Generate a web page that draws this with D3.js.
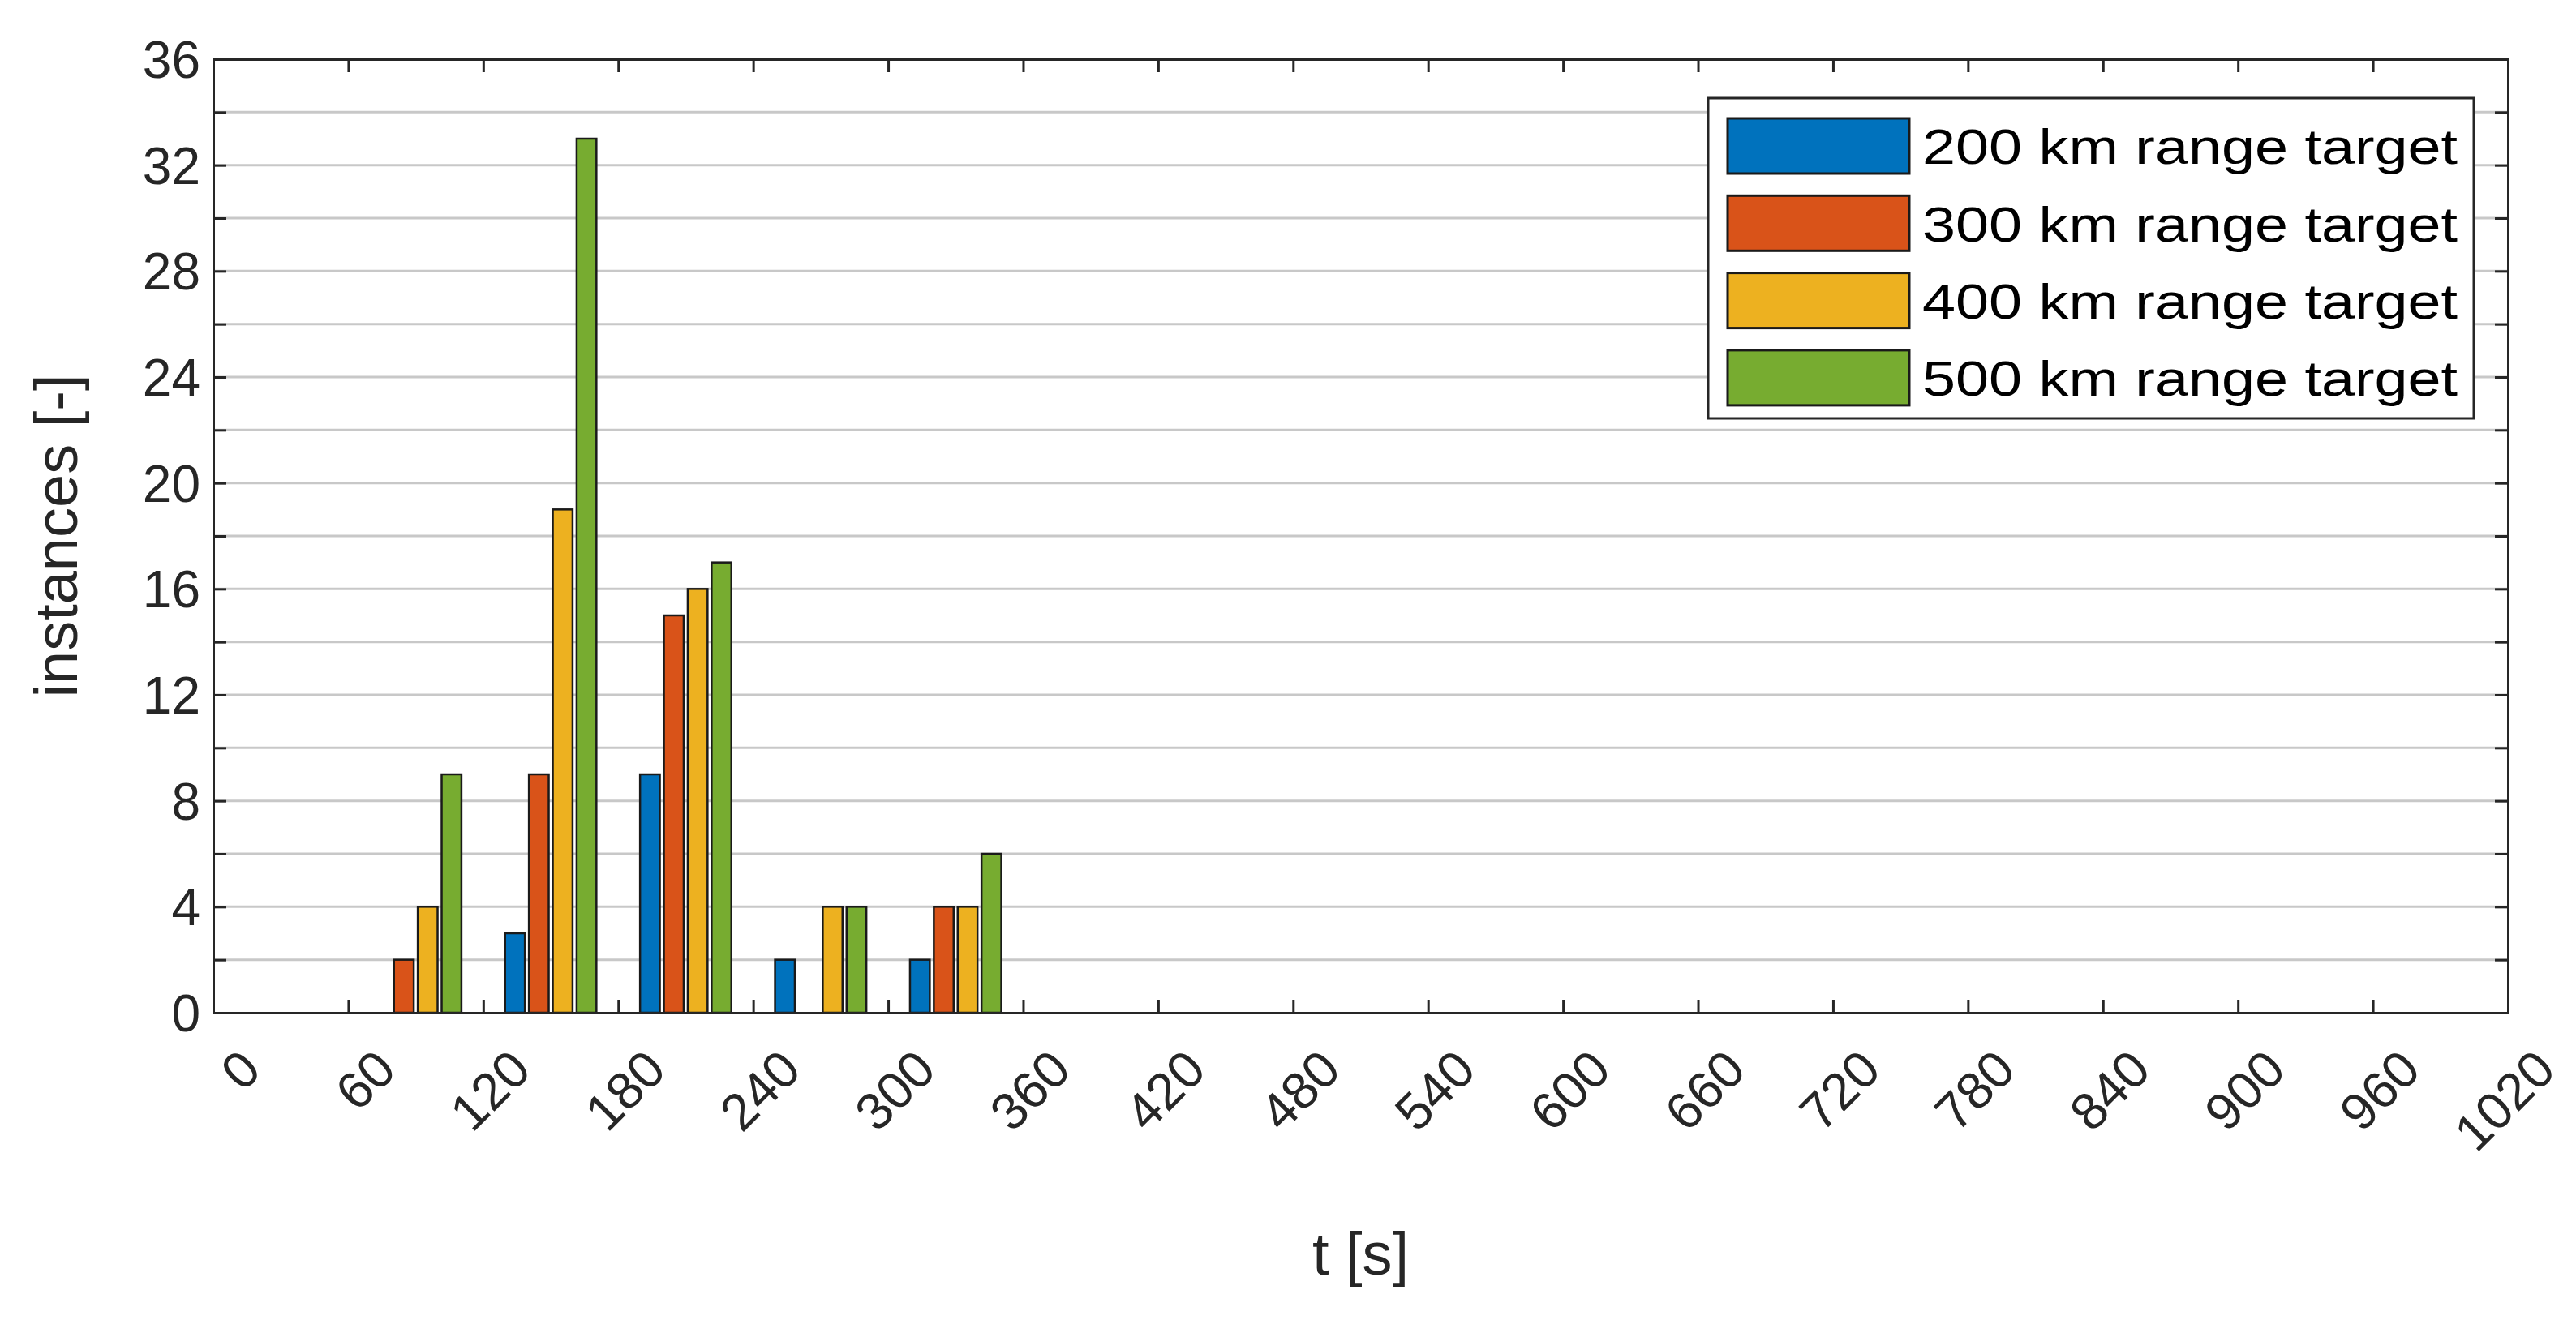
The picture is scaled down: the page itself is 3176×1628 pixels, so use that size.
<!DOCTYPE html>
<html><head><meta charset="utf-8">
<script src="https://cdn.jsdelivr.net/npm/d3@7"></script>
<style>body{margin:0;background:#fff}text{font-family:"Liberation Sans",Arial,sans-serif;fill:#262626}</style>
</head><body><svg id="c" width="3176" height="1628"></svg>
<script>
const binCenters = [90, 150, 210, 270, 330];
const seriesNames = ["200 km range target","300 km range target","400 km range target","500 km range target"];
const s200 = [0, 3, 9, 2, 2];
const s300 = [2, 9, 15, 0, 4];
const s400 = [4, 19, 16, 4, 4];
const s500 = [9, 33, 17, 4, 6];
const colors = ["#0072BD","#D95319","#EDB120","#77AC30"];
const xTicks = d3.range(0, 1021, 60);
const yTicks = d3.range(0, 37, 4);
const series = [s200, s300, s400, s500];

const svg = d3.select("#c");
const L=263, R=3092, T=73, B=1249;
const x = d3.scaleLinear().domain([0,1020]).range([L,R]);
const y = d3.scaleLinear().domain([0,36]).range([B,T]);

// grid
svg.append("g").selectAll("line").data(d3.range(2,36,2)).join("line")
  .attr("x1",L).attr("x2",R).attr("y1",d=>y(d)).attr("y2",d=>y(d))
  .attr("stroke","#c8c8c8").attr("stroke-width",3);

// bars
const step = 10.6, bw = 8.8;
series.forEach((s,i)=>{
  svg.append("g").selectAll("rect").data(s.map((v,j)=>({v,c:binCenters[j]})).filter(d=>d.v>0)).join("rect")
    .attr("x",d=>x(d.c+(i-1.5)*step-bw/2)).attr("width",x(bw)-x(0))
    .attr("y",d=>y(d.v)).attr("height",d=>y(0)-y(d.v))
    .attr("fill",colors[i]).attr("stroke","#1a1a1a").attr("stroke-width",2.5);
});

// axes
const ax = svg.append("g").attr("transform",`translate(0,${B})`)
  .call(d3.axisBottom(x).tickValues(xTicks).tickSize(-16).tickFormat(""));
const ax2 = svg.append("g").attr("transform",`translate(0,${T})`)
  .call(d3.axisTop(x).tickValues(xTicks).tickSize(-16).tickFormat(""));
const ay = svg.append("g").attr("transform",`translate(${L},0)`)
  .call(d3.axisLeft(y).tickValues(d3.range(0,37,2)).tickSize(-16).tickFormat(""));
const ay2 = svg.append("g").attr("transform",`translate(${R},0)`)
  .call(d3.axisRight(y).tickValues(d3.range(0,37,2)).tickSize(-16).tickFormat(""));
[ax,ax2,ay,ay2].forEach(g=>{g.selectAll("path,line").attr("stroke","#262626").attr("stroke-width",3);});

// tick labels
svg.append("g").selectAll("text").data(yTicks).join("text")
  .attr("x",L-16).attr("y",d=>y(d)).attr("dy","0.36em").attr("text-anchor","end")
  .attr("font-size",64).text(d=>d);
svg.append("g").selectAll("text").data(xTicks).join("text")
  .attr("transform",d=>`translate(${x(d)+30},${B+42}) rotate(-45)`)
  .attr("text-anchor","end").attr("dy","0.7em").attr("font-size",64).text(d=>d);

// titles
svg.append("text").attr("x",(L+R)/2).attr("y",1572).attr("text-anchor","middle").attr("font-size",74).text("t [s]");
svg.append("text").attr("transform",`translate(95,${(T+B)/2}) rotate(-90)`).attr("text-anchor","middle").attr("font-size",74).text("instances [-]");

// legend
const lg = svg.append("g");
lg.append("rect").attr("x",2106).attr("y",121).attr("width",944).attr("height",395)
  .attr("fill","#fff").attr("stroke","#262626").attr("stroke-width",3);
seriesNames.forEach((n,i)=>{
  const cy = 180 + i*95.3;
  lg.append("rect").attr("x",2130).attr("y",cy-34).attr("width",224).attr("height",68)
    .attr("fill",colors[i]).attr("stroke","#1a1a1a").attr("stroke-width",3);
  lg.append("text").attr("x",2370).attr("y",cy).attr("dy","0.36em").attr("font-size",62)
    .attr("textLength",660).attr("lengthAdjust","spacingAndGlyphs").style("fill","#000").text(n);
});
</script></body></html>
